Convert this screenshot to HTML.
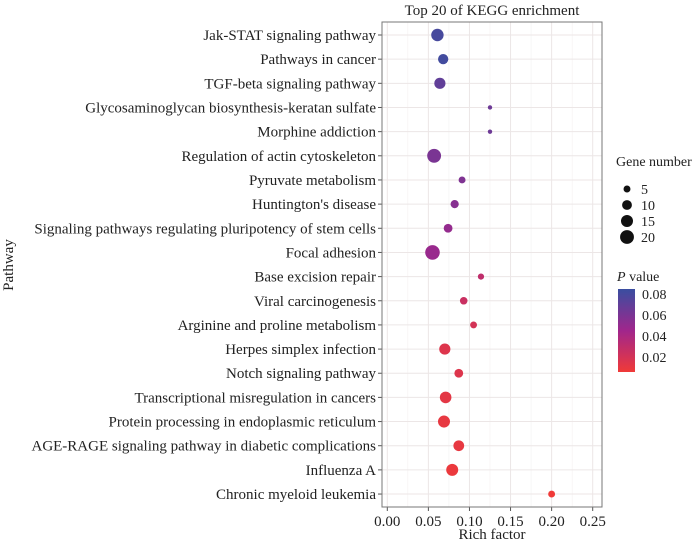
<!DOCTYPE html>
<html><head><meta charset="utf-8"><style>
body{margin:0;background:#fff}
svg{display:block;font-family:"Liberation Serif",serif}
</style></head><body>
<svg id="c" width="700" height="543"></svg>
<script>
const pathways=["Jak-STAT signaling pathway","Pathways in cancer","TGF-beta signaling pathway","Glycosaminoglycan biosynthesis-keratan sulfate","Morphine addiction","Regulation of actin cytoskeleton","Pyruvate metabolism","Huntington's disease","Signaling pathways regulating pluripotency of stem cells","Focal adhesion","Base excision repair","Viral carcinogenesis","Arginine and proline metabolism","Herpes simplex infection","Notch signaling pathway","Transcriptional misregulation in cancers","Protein processing in endoplasmic reticulum","AGE-RAGE signaling pathway in diabetic complications","Influenza A","Chronic myeloid leukemia"];
const richFactor=[0.061,0.068,0.064,0.125,0.125,0.057,0.091,0.082,0.074,0.055,0.114,0.093,0.105,0.070,0.087,0.071,0.069,0.087,0.079,0.200];
const geneCount=[16,11,13,2,2,20,5,7,8,22,4,6,5,13,8,14,15,12,15,5];
const pValue=[0.080,0.082,0.070,0.065,0.065,0.060,0.058,0.055,0.050,0.048,0.030,0.025,0.020,0.015,0.015,0.012,0.010,0.010,0.008,0.005];
const xTicks=[0,0.05,0.10,0.15,0.20,0.25];
const sizeLegend=[5,10,15,20];
const colorTicks=[0.08,0.06,0.04,0.02];

const NS="http://www.w3.org/2000/svg";
const svg=document.getElementById('c');
function mk(t,a,p){const e=document.createElementNS(NS,t);for(const k in a)e.setAttribute(k,a[k]);(p||svg).appendChild(e);return e;}
const L=382,R=602,T=22,B=507;
const x=v=>387.3+v*821.6;
const y=i=>35+i*24.16;
const rad=n=>1.55*Math.sqrt(n);
function lerp(a,b,t){return a.map((v,i)=>Math.round(v+(b[i]-v)*t));}
function col(p){const lo=0.0057,hi=0.085;let t=(p-lo)/(hi-lo);t=Math.max(0,Math.min(1,t));
 const c0=[240,58,56],c1=[160,38,140],c2=[58,78,160];
 const c=t<0.5?lerp(c0,c1,t*2):lerp(c1,c2,(t-0.5)*2);return `rgb(${c})`;}

const panel=mk('rect',{x:L,y:T,width:R-L,height:B-T,fill:'#fff',stroke:'#777','stroke-width':1});

for(let v=0.025;v<0.27;v+=0.05){const g=mk('line',{x1:x(v),x2:x(v),y1:T,y2:B,stroke:'#f4f1f1','stroke-width':0.6});}
xTicks.forEach(v=>{const g=mk('line',{x1:x(v),x2:x(v),y1:T,y2:B,stroke:'#ece6e6','stroke-width':1});
 const tk=mk('line',{x1:x(v),x2:x(v),y1:B,y2:B+4,stroke:'#555'});
 const t=mk('text',{x:x(v),y:B+19,'text-anchor':'middle','font-size':15,fill:'#222'});t.textContent=v.toFixed(2);});
pathways.forEach((p,i)=>{const g=mk('line',{x1:L,x2:R,y1:y(i),y2:y(i),stroke:'#ece6e6','stroke-width':1});
 const tk=mk('line',{x1:L-4,x2:L,y1:y(i),y2:y(i),stroke:'#555'});
 const t=mk('text',{x:L-6,y:y(i)+5,'text-anchor':'end','font-size':15,fill:'#222'});t.textContent=p;});
mk('rect',{x:L,y:T,width:R-L,height:B-T,fill:'none',stroke:'#777','stroke-width':1});
pathways.forEach((p,i)=>{const c=mk('circle',{cx:x(richFactor[i]),cy:y(i),r:rad(geneCount[i]),fill:col(pValue[i])});});
let t=mk('text',{x:492,y:15,'text-anchor':'middle','font-size':15,fill:'#222'});t.textContent='Top 20 of KEGG enrichment';
t=mk('text',{x:492,y:539,'text-anchor':'middle','font-size':15,fill:'#222'});t.textContent='Rich factor';
t=mk('text',{x:0,y:0,'text-anchor':'middle','font-size':15,fill:'#222',transform:'translate(13,265) rotate(-90)'});t.textContent='Pathway';
t=mk('text',{x:616,y:166,'font-size':14,fill:'#222'});t.textContent='Gene number';
sizeLegend.forEach((n,i)=>{const cy=189+i*16;const c=mk('circle',{cx:627,cy:cy,r:rad(n),fill:'#111'});
 const l=mk('text',{x:641,y:cy+5,'font-size':14,fill:'#222'});l.textContent=n;});
t=mk('text',{x:617,y:281,'font-size':14,fill:'#222'});t.innerHTML='<tspan font-style="italic">P</tspan> value';
const defs=mk('defs',{});const gr=mk('linearGradient',{id:'g',x1:0,y1:1,x2:0,y2:0},defs);
for(let k=0;k<=10;k++){mk('stop',{offset:k/10,'stop-color':col(0.0057+(0.085-0.0057)*k/10)},gr);}
const cb=mk('rect',{x:618,y:289,width:17,height:83,fill:'url(#g)'});
const cy=v=>372-(v-0.0057)/(0.085-0.0057)*83;
colorTicks.forEach(v=>{const l=mk('text',{x:642,y:cy(v)+5,'font-size':14,fill:'#222'});l.textContent=v.toFixed(2);});
</script>
</body></html>
